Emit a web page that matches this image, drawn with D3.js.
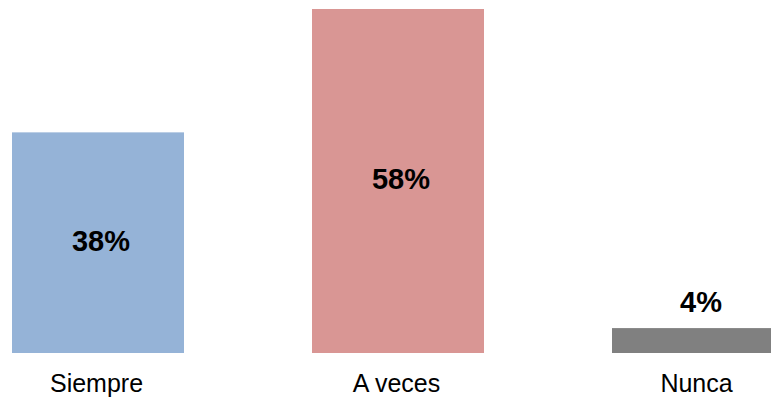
<!DOCTYPE html>
<html>
<head>
<meta charset="utf-8">
<script src="https://cdn.jsdelivr.net/npm/d3@7"></script>
<style>
html, body { margin: 0; padding: 0; background: #fff; overflow: hidden; }
svg { display: block; }
</style>
</head>
<body>
<svg id="chart" width="771" height="400"></svg>
<script>
const categories = ["Siempre", "A veces", "Nunca"];
const values = [37.2, 58, 4.2];
const valueLabels = ["38%", "58%", "4%"];
const colors = ["#95B3D7", "#D99694", "#808080"];

const svg = d3.select("#chart");
const baseline = 353;

const x = d3.scaleBand()
  .domain(categories)
  .range([-52, 848])
  .paddingInner(128 / 300)
  .paddingOuter(64 / 300);

const y = d3.scaleLinear()
  .domain([0, 58])
  .range([baseline, 9]);

const data = categories.map((c, i) => ({ cat: c, v: values[i], label: valueLabels[i], color: colors[i] }));

svg.selectAll("rect.bar")
  .data(data)
  .enter().append("rect")
  .attr("class", "bar")
  .attr("x", d => x(d.cat))
  .attr("y", d => y(d.v))
  .attr("width", x.bandwidth())
  .attr("height", d => baseline - y(d.v))
  .attr("fill", d => d.color);

svg.selectAll("text.val")
  .data(data)
  .enter().append("text")
  .attr("class", "val")
  .attr("x", d => x(d.cat) + x.bandwidth() / 2 + 3)
  .attr("y", d => {
    const h = baseline - y(d.v);
    return h > 60 ? (y(d.v) + baseline) / 2 + 8 : y(d.v) - 16;
  })
  .attr("text-anchor", "middle")
  .style("font-family", "'Liberation Sans', Arial, sans-serif")
  .style("font-weight", "bold")
  .style("font-size", "29px")
  .attr("fill", "#000")
  .text(d => d.label);

const xAxis = d3.axisBottom(x).tickSize(0).tickPadding(0);
const gx = svg.append("g")
  .attr("transform", `translate(-1.5, 372)`)
  .call(xAxis);
gx.select(".domain").remove();
gx.selectAll("text")
  .attr("dy", "0.8em")
  .attr("fill", "#000")
  .style("font-family", "'Liberation Sans', Arial, sans-serif")
  .style("font-size", "25px");
</script>
</body>
</html>
